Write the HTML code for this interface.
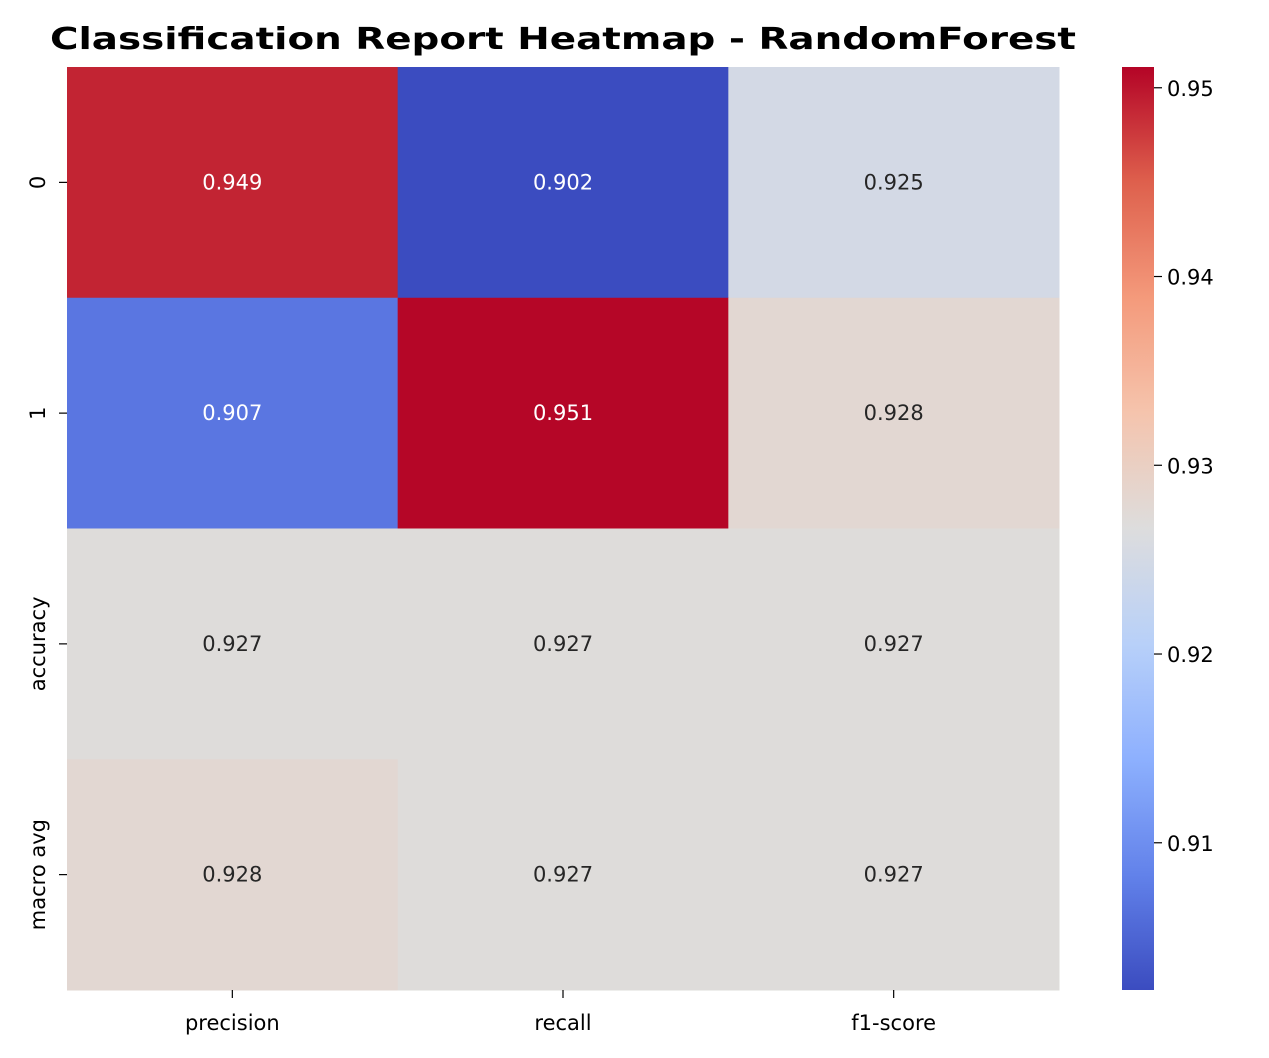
<!DOCTYPE html>
<html><head><meta charset="utf-8"><style>
html,body{margin:0;padding:0;background:#fff;}
svg{display:block;font-family:"DejaVu Sans","Liberation Sans",sans-serif;}
</style></head><body>
<svg id="chart" width="1269" height="1058">
<defs><linearGradient id="cbgrad" x1="0" y1="1" x2="0" y2="0"></linearGradient></defs>
<text x="50" y="49" textLength="1026" lengthAdjust="spacingAndGlyphs" font-size="30" font-weight="bold" fill="#000">Classification Report Heatmap - RandomForest</text>
<g id="cells"></g><g id="axes"></g><g id="cbar"></g>
</svg>
<script>
const rowLabels = ["0","1","accuracy","macro avg"];
const colLabels = ["precision","recall","f1-score"];
const values = [
  [0.949,0.902,0.925],
  [0.907,0.951,0.928],
  [0.927,0.927,0.927],
  [0.928,0.927,0.927]
];
const cbTicks = [0.91,0.92,0.93,0.94,0.95];

const NS="http://www.w3.org/2000/svg";
const X0=67,X1=1059,Y0=67,Y1=990;
const flat=values.flat();
const vmin=Math.min(...flat)+0.0002, vmax=Math.max(...flat)+0.0001;
const stops=[[0,[59,76,192]],[0.125,[98,130,234]],[0.25,[141,176,254]],[0.375,[184,208,249]],[0.5,[221,221,221]],[0.625,[245,196,173]],[0.75,[244,154,123]],[0.875,[222,96,77]],[1,[180,4,38]]];
function cmap(t){t=Math.max(0,Math.min(1,t));for(let i=1;i<stops.length;i++){if(t<=stops[i][0]){const a=stops[i-1],b=stops[i];const f=(t-a[0])/(b[0]-a[0]);const c=a[1].map((v,k)=>Math.round(v+(b[1][k]-v)*f));return `rgb(${c[0]},${c[1]},${c[2]})`;}}return "rgb(180,4,38)";}
function norm(v){return (v-vmin)/(vmax-vmin);}
const cw=(X1-X0)/colLabels.length, rh=(Y1-Y0)/rowLabels.length;
function xPos(i){return X0+i*cw;}
function yPos(j){return Y0+j*rh;}
function el(tag,attrs,parent,text){const e=document.createElementNS(NS,tag);for(const k in attrs)e.setAttribute(k,attrs[k]);if(text!==undefined)e.textContent=text;parent.appendChild(e);return e;}
const cells=document.getElementById('cells'),axes=document.getElementById('axes'),cbar=document.getElementById('cbar');
values.forEach((row,j)=>row.forEach((v,i)=>{
  const r=el('rect',{x:xPos(i),y:yPos(j),width:cw+0.5,height:rh+0.5,fill:cmap(norm(v))},cells);
  
  
  const t=norm(v);
  const tx=el('text',{x:xPos(i)+cw/2,y:yPos(j)+rh/2+7,'text-anchor':'middle','font-size':'21',fill:(t<0.2||t>0.8)?'#fff':'#262626'},cells,v.toFixed(3));
  
  
}));
colLabels.forEach((c,i)=>{
  const cx=xPos(i)+cw/2;
  el('line',{x1:cx,x2:cx,y1:Y1,y2:Y1+8,stroke:'#000','stroke-width':1.2},axes);
  const t=el('text',{x:cx,y:Y1+40,'text-anchor':'middle','font-size':'21',fill:'#000'},axes,c);
  
  
});
rowLabels.forEach((r,j)=>{
  const cy=yPos(j)+rh/2;
  el('line',{x1:X0-8,x2:X0,y1:cy,y2:cy,stroke:'#000','stroke-width':1.2},axes);
  const t=el('text',{x:0,y:0,transform:`translate(${X0-22},${cy}) rotate(-90)`,'text-anchor':'middle','font-size':'21',fill:'#000'},axes,r);
  
  
});
const CX0=1122,CX1=1154;
const grad=document.getElementById('cbgrad');
for(let k=0;k<=40;k++){el('stop',{offset:(k/40),'stop-color':cmap(k/40)},grad);}
const cb=el('rect',{x:CX0,y:Y0,width:CX1-CX0,height:Y1-Y0,fill:'url(#cbgrad)'},cbar);


function cbY(v){return Y1-(v-vmin)/(vmax-vmin)*(Y1-Y0);}
cbTicks.forEach(v=>{
  const y=cbY(v);
  el('line',{x1:CX1,x2:CX1+8,y1:y,y2:y,stroke:'#000','stroke-width':1.2},cbar);
  const t=el('text',{x:CX1+13,y:y+8,'font-size':'21',fill:'#000'},cbar,v.toFixed(2));
  
  
});
</script>
</body></html>
